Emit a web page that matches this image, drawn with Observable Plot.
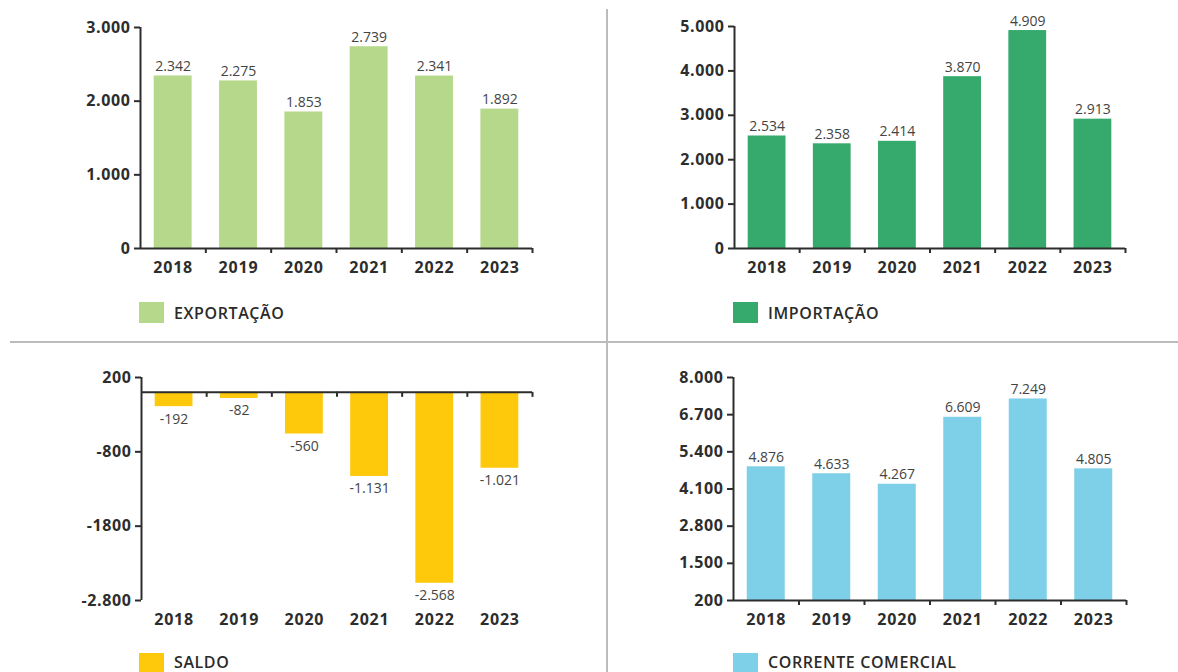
<!DOCTYPE html>
<html lang="pt-BR">
<head>
<meta charset="utf-8">
<script src="https://cdn.jsdelivr.net/npm/d3@7"></script>
<script src="https://cdn.jsdelivr.net/npm/@observablehq/plot@0.6"></script>
<style>
  html, body { margin: 0; padding: 0; background: #fff; }
  #page { position: relative; width: 1178px; height: 672px; overflow: hidden; background: #fff; font-family: "Open Sans", sans-serif; }
  .panel { position: absolute; }
  .panel svg { display: block; overflow: visible; }
  .panel svg g[aria-label="x-axis tick label"] text { letter-spacing: 0.8px; }
  .panel svg g[aria-label="y-axis tick label"] text { letter-spacing: 0.6px; }
  .sw { position: absolute; width: 25px; height: 21px; }
  .lb { position: absolute; font-size: 16px; font-weight: 600; color: #2b2b2b; line-height: 16px; height: 16px; letter-spacing: 0.6px; white-space: nowrap; }
  .vline { position: absolute; left: 606px; top: 9px; width: 1.5px; height: 663px; background: #bcbcbc; }
  .hline { position: absolute; left: 10px; top: 341px; width: 1168px; height: 1.5px; background: #bcbcbc; }
</style>
</head>
<body>
<div id="page">
  <div class="vline"></div>
  <div class="hline"></div>
</div>
<script>
// ---- data ----
const years = [2018, 2019, 2020, 2021, 2022, 2023];
const exportacao = [2342, 2275, 1853, 2739, 2341, 1892];
const importacao = [2534, 2358, 2414, 3870, 4909, 2913];
const saldo = [-192, -82, -560, -1131, -2568, -1021];
const correnteComercial = [4876, 4633, 4267, 6609, 7249, 4805];

const exportTicks = [0, 1000, 2000, 3000];
const exportTickLabels = ["0", "1.000", "2.000", "3.000"];
const importTicks = [0, 1000, 2000, 3000, 4000, 5000];
const importTickLabels = ["0", "1.000", "2.000", "3.000", "4.000", "5.000"];
const saldoTicks = [200, -800, -1800, -2800];
const saldoTickLabels = ["200", "-800", "-1800", "-2.800"];
const correnteTicks = [200, 1500, 2800, 4100, 5400, 6700, 8000];
const correnteTickLabels = ["200", "1.500", "2.800", "4.100", "5.400", "6.700", "8.000"];

const seriesNames = ["EXPORTAÇÃO", "IMPORTAÇÃO", "SALDO", "CORRENTE COMERCIAL"];
const seriesColors = ["#b6d88b", "#36aa6c", "#fec80b", "#7ecfe8"];

// ---- helpers ----
const fmt = d3.formatLocale({decimal: ",", thousands: ".", grouping: [3], currency: ["R$", ""], minus: "-"}).format(",d");
const axisColor = "#2d2d2d";
const HALF = 0.29;

function panel(cfg) {
  const data = years.map((year, i) => ({year, value: cfg.values[i]}));
  const boundaries = years.map(y => y + 0.5);
  const positive = cfg.values.every(v => v >= cfg.base);
  return Plot.plot({
    width: cfg.width, height: cfg.height,
    marginLeft: cfg.marginLeft, marginRight: cfg.marginRight,
    marginTop: cfg.marginTop, marginBottom: cfg.marginBottom,
    style: {fontFamily: "'Open Sans', sans-serif", background: "transparent", overflow: "visible"},
    x: {type: "linear", domain: [years[0] - 0.5, years[years.length - 1] + 0.5]},
    y: {domain: cfg.domain},
    marks: [
      Plot.rectY(data, {x1: d => d.year - HALF, x2: d => d.year + HALF, y1: cfg.base, y2: "value", fill: cfg.color}),
      Plot.ruleY([cfg.base], {stroke: axisColor, strokeWidth: 2}),
      Plot.ruleX([years[0] - 0.5], {stroke: axisColor, strokeWidth: 2}),
      Plot.ruleX(boundaries, {y1: cfg.base, y2: cfg.base, insetBottom: -5, stroke: axisColor, strokeWidth: 2}),
      Plot.axisY({
        ticks: cfg.ticks,
        tickFormat: d => cfg.tickLabels[cfg.ticks.indexOf(d)],
        tickSize: 6, tickPadding: 4, strokeWidth: 2,
        fontSize: 16, fontWeight: 700, color: axisColor, label: null
      }),
      Plot.axisX({
        ticks: years, tickSize: 0, tickPadding: 13,
        tickFormat: d => String(d),
        fontSize: 16, fontWeight: 700, color: axisColor, label: null
      }),
      Plot.text(data, {
        x: "year", y: "value", text: d => fmt(d.value),
        lineAnchor: positive ? "bottom" : "top", dy: positive ? -5 : 7,
        fontSize: 14, fill: "#444"
      })
    ]
  });
}

const page = document.getElementById("page");
function place(node, left, top) {
  const div = document.createElement("div");
  div.className = "panel";
  div.style.left = left + "px";
  div.style.top = top + "px";
  div.appendChild(node);
  page.appendChild(div);
}
function legend(i, left, top, textOffset) {
  const sw = document.createElement("div");
  sw.className = "sw";
  sw.style.left = left + "px";
  sw.style.top = top + "px";
  sw.style.background = seriesColors[i];
  const lb = document.createElement("div");
  lb.className = "lb";
  lb.style.left = (left + 35) + "px";
  lb.style.top = (top + textOffset) + "px";
  lb.textContent = seriesNames[i];
  page.appendChild(sw);
  page.appendChild(lb);
}

place(panel({values: exportacao, color: seriesColors[0], ticks: exportTicks, tickLabels: exportTickLabels,
  domain: [0, 3000], base: 0, width: 590, height: 290, marginLeft: 140, marginRight: 58, marginTop: 27, marginBottom: 42}), 0, 0);
place(panel({values: importacao, color: seriesColors[1], ticks: importTicks, tickLabels: importTickLabels,
  domain: [0, 5000], base: 0, width: 588, height: 290, marginLeft: 144, marginRight: 53, marginTop: 26, marginBottom: 42}), 590, 0);
place(panel({values: saldo, color: seriesColors[2], ticks: saldoTicks, tickLabels: saldoTickLabels,
  domain: [-2800, 200], base: 0, width: 590, height: 300, marginLeft: 141, marginRight: 58, marginTop: 35, marginBottom: 42}), 0, 342);
place(panel({values: correnteComercial, color: seriesColors[3], ticks: correnteTicks, tickLabels: correnteTickLabels,
  domain: [200, 8000], base: 200, width: 588, height: 300, marginLeft: 143, marginRight: 52, marginTop: 35, marginBottom: 42}), 590, 342);

legend(0, 139, 302, 3);
legend(1, 733, 302, 3);
legend(2, 139, 653, 1);
legend(3, 733, 653, 1);
</script>
</body>
</html>
